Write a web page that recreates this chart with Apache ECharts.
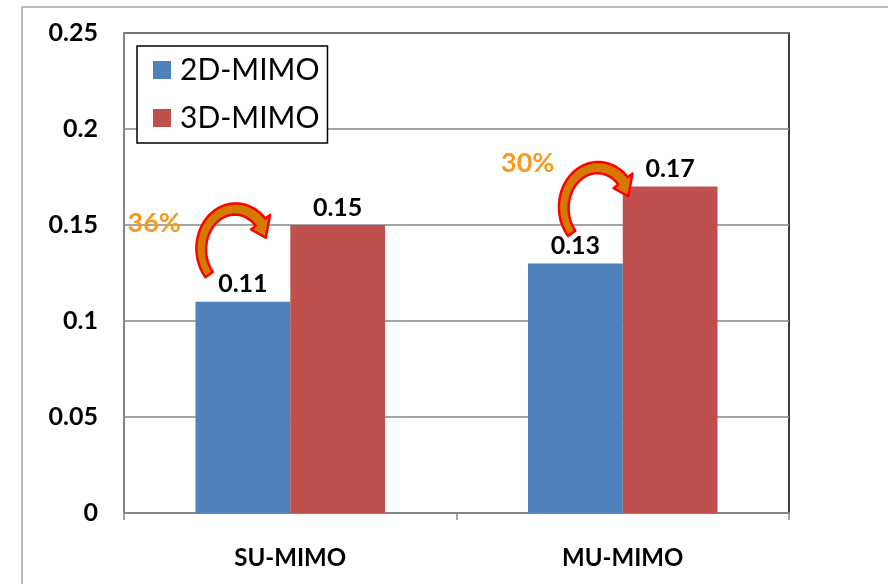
<!DOCTYPE html>
<html>
<head>
<meta charset="utf-8">
<script src="https://cdn.jsdelivr.net/npm/echarts@6/dist/echarts.min.js"></script>
<style>
html,body{margin:0;padding:0;background:#fff;}
#main{width:888px;height:584px;}
</style>
</head>
<body>
<div id="main"></div>
<script>
var categories = ['SU-MIMO', 'MU-MIMO'];
var seriesNames = ['2D-MIMO', '3D-MIMO'];
var values2D = [0.11, 0.13];
var values3D = [0.15, 0.17];
var gainLabels = ['36%', '30%'];

var FONT = 'Lato';
var myChart = echarts.init(document.getElementById('main'));

// thick curved arrow, built as a polygon round an elliptic arc
function arrowPoints(cx, cy, rx, ry, a0, a1, w0, w1, headW, headL) {
	var outer = [], inner = [];
	var n = 36;
	function pt(a, d) {
		// point on ellipse pushed out along the normal by d
		var x = rx * Math.cos(a), y = ry * Math.sin(a);
		var nx = ry * Math.cos(a), ny = rx * Math.sin(a);
		var l = Math.sqrt(nx * nx + ny * ny);
		return [cx + x + d * nx / l, cy + y + d * ny / l];
	}
	for (var i = 0; i <= n; i++) {
		var t = i / n;
		var a = a0 + (a1 - a0) * t;
		var w = w0 + (w1 - w0) * t;
		outer.push(pt(a, w / 2));
		inner.push(pt(a, -w / 2));
	}
	var pts = outer.slice();
	pts.push(pt(a1, headW / 2));
	var at = a1 + headL / ((rx + ry) / 2);
	pts.push(pt(at, -2));
	pts.push(pt(a1, -headW / 2));
	for (var j = inner.length - 1; j >= 0; j--) pts.push(inner[j]);
	return pts;
}

var option = {
	backgroundColor: '#fff',
	animation: false,
	grid: {
		left: 124,
		right: 99,
		top: 33,
		bottom: 71,
		show: true,
		borderColor: '#000',
		borderWidth: 1.5,
		backgroundColor: 'transparent'
	},
	legend: {
		orient: 'vertical',
		left: 137,
		top: 46,
		data: seriesNames,
		icon: 'rect',
		itemWidth: 18,
		itemHeight: 18,
		itemGap: 18,
		padding: [9, 8, 10, 16],
		backgroundColor: '#fff',
		borderColor: '#000',
		borderWidth: 1.5,
		textStyle: {fontFamily: FONT, fontSize: 30, color: '#000', lineHeight: 30, padding: [0, 0, 0, 4]}
	},
	xAxis: {
		type: 'category',
		data: categories,
		axisLine: {lineStyle: {color: '#868686', width: 2}},
		axisTick: {show: true, length: 7, lineStyle: {color: '#868686', width: 1.5}},
		axisLabel: {fontFamily: FONT, fontWeight: 'bold', fontSize: 24, color: '#000', margin: 33}
	},
	yAxis: {
		type: 'value',
		min: 0,
		max: 0.25,
		interval: 0.05,
		axisLine: {show: true, lineStyle: {color: '#868686', width: 2}},
		axisTick: {show: false},
		axisLabel: {fontFamily: FONT, fontWeight: 'bold', fontSize: 25, color: '#000', margin: 26},
		splitLine: {lineStyle: {color: '#868686', width: 1.5}}
	},
	series: [{
		name: seriesNames[0],
		type: 'bar',
		data: values2D,
		barGap: '0%',
		barCategoryGap: '43%',
		itemStyle: {color: '#4F81BD'},
		label: {show: true, position: 'top', distance: 5, fontFamily: FONT, fontWeight: 'bold', fontSize: 25, color: '#000'}
	}, {
		name: seriesNames[1],
		type: 'bar',
		data: values3D,
		itemStyle: {color: '#C0504D'},
		label: {show: true, position: 'top', distance: 5, fontFamily: FONT, fontWeight: 'bold', fontSize: 25, color: '#000'}
	}]
};
myChart.setOption(option);

// annotation placement, offsets from category centre / 3D bar top
var arrowOffset = [[-55, 24], [-25, 21]];
var labelOffset = [[-81, -26], [-70, -44]];
var graphics = [{
	type: 'rect',
	silent: true,
	z: -10,
	shape: {x: 22, y: 7, width: 900, height: 620},
	style: {fill: 'none', stroke: '#a6a6a6', lineWidth: 1.5}
}];
var deg = Math.PI / 180;
for (var i = 0; i < categories.length; i++) {
	var px = myChart.convertToPixel({xAxisIndex: 0}, i);
	var py = myChart.convertToPixel({yAxisIndex: 0}, values3D[i]);
	var cx = px + arrowOffset[i][0];
	var cy = py + arrowOffset[i][1];
	graphics.push({
		type: 'polygon',
		z: 100,
		shape: {points: arrowPoints(cx, cy, 34, 40, 140 * deg, 318 * deg, 9, 12, 24, 16)},
		style: {fill: '#D47A00', stroke: '#FF0000', lineWidth: 2.5, lineJoin: 'round'}
	});
	graphics.push({
		type: 'text',
		z: 100,
		x: cx + labelOffset[i][0],
		y: cy + labelOffset[i][1],
		style: {
			text: gainLabels[i],
			fontFamily: FONT,
			fontWeight: 'bold',
			fontSize: 27,
			fill: '#F79A1E',
			align: 'center',
			verticalAlign: 'middle'
		}
	});
}
myChart.setOption({graphic: graphics});
</script>
</body>
</html>
